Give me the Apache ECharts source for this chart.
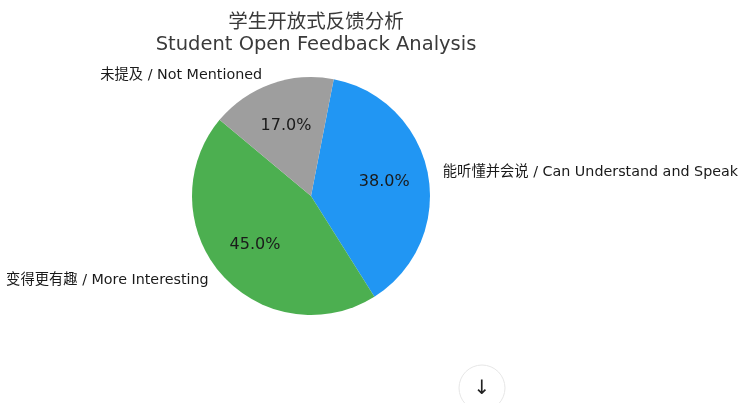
<!DOCTYPE html>
<html>
<head>
<meta charset="utf-8">
<script src="https://cdn.jsdelivr.net/npm/echarts@6/dist/echarts.min.js"></script>
<style>
  html, body { margin: 0; padding: 0; background: #fff; }
  #chart { width: 743px; height: 403px; }
</style>
</head>
<body>
<div id="chart"></div>
<script>
const categories = ['能听懂并会说 / Can Understand and Speak', '变得更有趣 / More Interesting', '未提及 / Not Mentioned']
const values = [38, 45, 17]
const colors = ['#2196F3', '#4CAF50', '#9E9E9E']

const font = '"DejaVu Sans", "Noto Sans CJK SC", sans-serif'
const pieData = categories.map((name, i) => ({ name, value: values[i], itemStyle: { color: colors[i] } }))

const chart = echarts.init(document.getElementById('chart'))
chart.setOption({
  animation: false,
  title: {
    text: '学生开放式反馈分析\nStudent Open Feedback Analysis',
    left: 311,
    top: 7,
    textAlign: 'center',
    textStyle: { fontFamily: font, fontSize: 19.5, fontWeight: 'normal', color: '#3a3a3a', lineHeight: 22 }
  },
  series: [
    {
      // slices + outside category labels
      type: 'pie',
      center: [311, 196],
      radius: [0, 119],
      startAngle: 79,
      clockwise: true,
      avoidLabelOverlap: false,
      silent: true,
      data: pieData,
      label: {
        position: 'outside',
        fontFamily: font,
        fontSize: 14.3,
        color: '#1a1a1a',
        distanceToLabelLine: 6
      },
      labelLine: { show: false, length: 9, length2: 0 }
    },
    {
      // percentage labels at 0.6 r
      type: 'pie',
      center: [311, 196],
      radius: [0, 143],
      startAngle: 79,
      clockwise: true,
      silent: true,
      data: pieData.map(d => ({ name: d.name, value: d.value, itemStyle: { color: 'rgba(0,0,0,0)' } })),
      label: {
        position: 'inside',
        fontFamily: font,
        fontSize: 16,
        color: '#1a1a1a',
        formatter: p => p.percent.toFixed(1) + '%'
      },
      labelLine: { show: false }
    }
  ],
  graphic: [
    {
      type: 'circle',
      shape: { cx: 482, cy: 388, r: 23 },
      style: { fill: '#fff', stroke: '#e6e6e6', lineWidth: 1 }
    },
    {
      type: 'text',
      x: 482,
      y: 389,
      style: { text: '↓', fontSize: 20, fill: '#222', align: 'center', verticalAlign: 'middle', fontFamily: font }
    }
  ]
})
</script>
</body>
</html>
